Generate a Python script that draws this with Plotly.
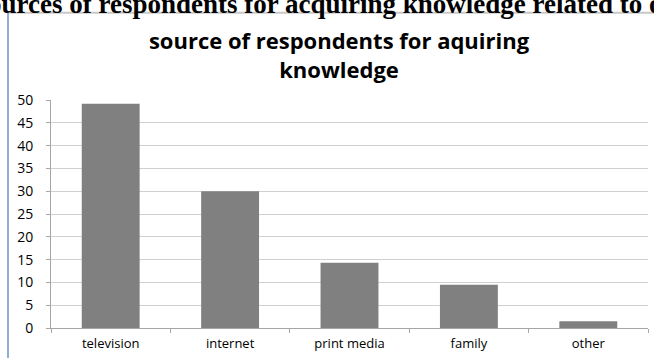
import plotly.graph_objects as go

categories = ["television", "internet", "print media", "family", "other"]
values = [49.2, 30.0, 14.3, 9.5, 1.5]
y_ticks = [0, 5, 10, 15, 20, 25, 30, 35, 40, 45, 50]

L, R, T, B = 51, 6, 100, 28
W, H = 654, 358
PW, PH = W - L - R, H - T - B


def px(x):
    return (x - L) / PW


def py(y):
    return (T + PH - y) / PH


fig = go.Figure()
fig.add_trace(go.Bar(x=categories, y=values, marker=dict(color="#808080", line=dict(width=0))))

fig.update_layout(
    width=W, height=H,
    margin=dict(l=L, r=R, t=T, b=B),
    paper_bgcolor="white", plot_bgcolor="white",
    bargap=0.515,
    showlegend=False,
    font=dict(family="Open Sans", color="black"),
    title=dict(
        text="<b>source of respondents for aquiring<br>knowledge</b>",
        x=339 / W, xanchor="center",
        y=1 - 49 / H, yanchor="middle",
        font=dict(family="Open Sans", size=22, color="black"),
    ),
)
fig.update_xaxes(
    type="category", tickson="boundaries", ticks="outside", ticklen=4,
    tickcolor="#a6a6a6", showline=True, linecolor="#a6a6a6", linewidth=1,
    showgrid=False, tickfont=dict(size=13, family="Open Sans"), ticklabelstandoff=3,
)
fig.update_yaxes(
    range=[0, 50], tickvals=y_ticks, ticks="outside", ticklen=4,
    tickcolor="#a6a6a6", showline=True, linecolor="#a6a6a6", linewidth=1,
    showgrid=True, gridcolor="#d0d0d0", gridwidth=1, zeroline=False,
    tickfont=dict(size=14, family="Open Sans"), ticklabelstandoff=10,
)
# page frame lines
fig.add_shape(type="line", xref="paper", yref="paper",
              x0=px(7), x1=px(660), y0=py(12), y1=py(12),
              line=dict(color="#c8c8c8", width=2))
fig.add_shape(type="line", xref="paper", yref="paper",
              x0=px(8), x1=px(8), y0=py(365), y1=py(12),
              line=dict(color="#6f93c8", width=1.5))
# cut-off caption from the page above the chart
fig.add_annotation(
    text="<b>Sources of respondents for acquiring knowledge related to oral health</b>",
    xref="paper", yref="paper", x=px(-29), y=py(3), xanchor="left", yanchor="middle",
    showarrow=False, font=dict(family="Liberation Serif", size=27, color="black"),
)
fig.write_html("out.html")
